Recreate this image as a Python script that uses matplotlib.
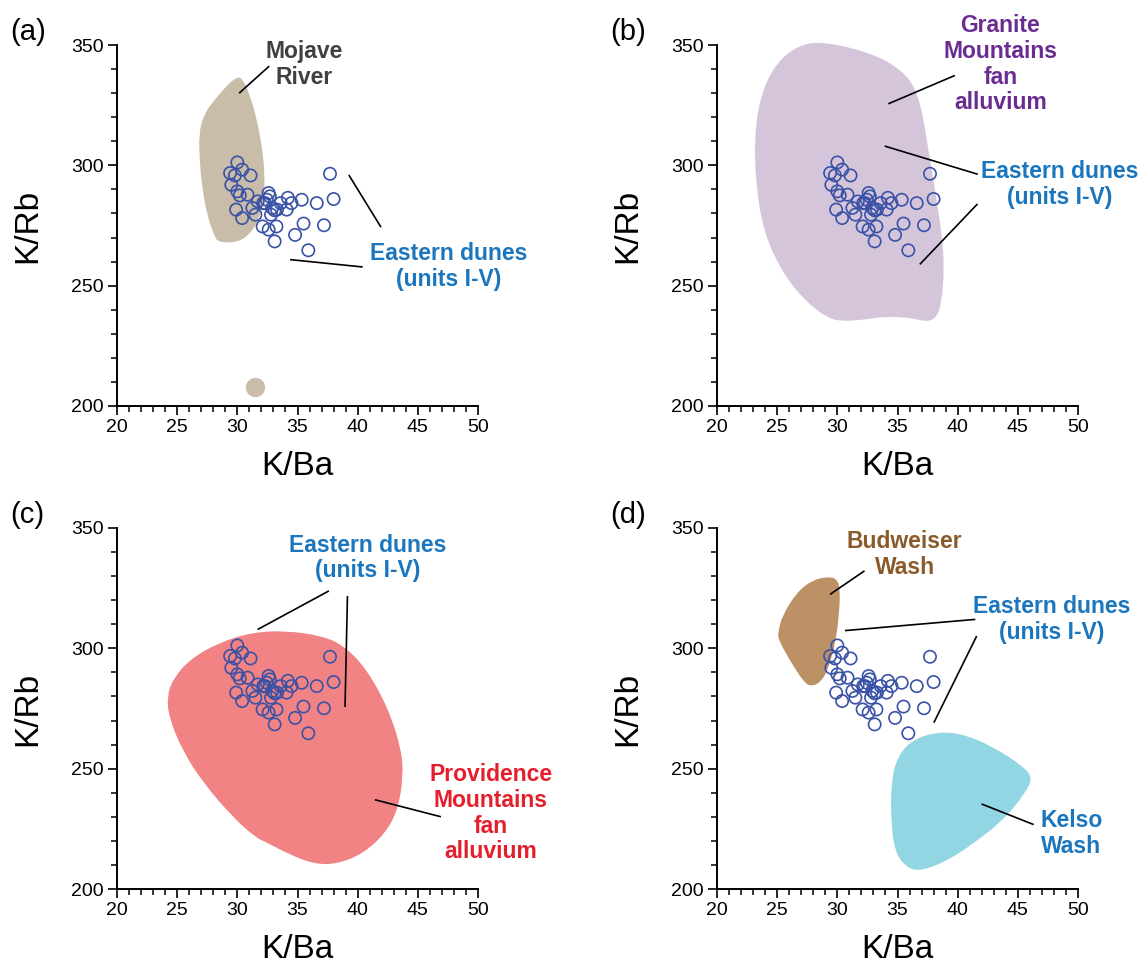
import matplotlib
matplotlib.use("Agg")
import matplotlib.pyplot as plt
from matplotlib.patches import PathPatch
from matplotlib.path import Path
from matplotlib.ticker import MultipleLocator

plt.rcParams['font.family'] = ['Liberation Sans', 'DejaVu Sans']

# Eastern dunes (units I-V) samples, same in every panel
dune_kba = [30.0, 29.4, 29.8, 30.4, 31.1, 29.5, 30.0, 30.2, 30.85, 29.9,
            30.4, 31.25, 31.5, 31.7, 32.15, 32.6, 32.7, 32.45, 32.3, 32.9,
            33.1, 32.8, 33.3, 33.6, 34.2, 34.1, 34.5, 35.35, 36.6, 37.7,
            38.0, 32.1, 32.6, 33.25, 33.1, 34.8, 35.5, 37.2, 35.9]
dune_krb = [301.2, 296.8, 295.8, 298.2, 295.8, 291.9, 289.2, 287.5, 287.8, 281.6,
            278.1, 282.3, 279.5, 285.0, 284.3, 288.5, 287.1, 285.7, 284.3, 282.3,
            281.3, 279.5, 281.6, 284.3, 286.5, 281.6, 284.3, 285.7, 284.3, 296.5,
            286.0, 274.6, 273.3, 274.6, 268.4, 271.1, 275.8, 275.1, 264.7]

# (a) Mojave River field
mojave_kba = [30.3, 30.9, 31.55, 32.0, 32.2, 32.1, 31.7, 30.9, 29.9, 28.5,
              28.2, 27.6, 27.15, 26.95, 26.9, 27.3, 28.2, 29.3, 29.9]
mojave_krb = [336.2, 330.0, 318.9, 306.5, 295.4, 285.7, 277.4, 271.2, 268.4, 268.4,
              270.5, 278.8, 291.2, 302.3, 313.4, 321.0, 327.2, 333.4, 335.8]
mojave_dot = (31.5, 207.9)

# (b) Granite Mountains fan alluvium field
granite_kba = [28.9, 32.9, 35.3, 36.35, 36.95, 37.4, 38.0, 38.6, 38.8, 38.6,
               38.2, 37.4, 36.2, 34.1, 32.25, 30.4, 29.2, 27.4, 25.6, 24.0,
               23.3, 23.2, 23.75, 24.95, 26.8]
granite_krb = [351.0, 346.1, 339.2, 332.3, 322.7, 308.8, 290.9, 271.5, 257.7, 243.9,
               237.0, 235.4, 237.0, 237.7, 236.3, 235.6, 237.0, 243.9, 255.0, 271.5,
               292.3, 313.0, 329.6, 342.0, 349.6]

# (c) Providence Mountains fan alluvium field
prov_kba = [34.0, 37.0, 38.85, 40.7, 42.5, 43.55, 43.7, 43.25, 42.2, 40.35,
            38.25, 36.4, 34.3, 32.45, 31.55, 29.7, 27.3, 25.5, 24.4, 24.25,
            24.7, 26.1, 28.5, 31.25]
prov_krb = [306.9, 304.8, 300.6, 291.0, 274.4, 257.8, 246.7, 232.9, 223.2, 214.9,
            210.8, 210.8, 214.9, 219.8, 221.8, 230.1, 243.9, 257.8, 271.6, 279.9,
            286.8, 295.1, 302.0, 306.2]

# (d) Budweiser Wash and Kelso Wash fields
bud_kba = [29.15, 29.9, 30.15, 30.05, 29.75, 29.15, 28.55, 27.95, 27.35, 26.1,
           25.2, 25.15, 25.5, 26.7, 27.95]
bud_krb = [329.3, 328.6, 324.4, 313.4, 302.3, 291.2, 286.4, 284.7, 285.7, 295.4,
           303.7, 306.4, 313.4, 323.0, 327.9]
kelso_kba = [38.6, 40.7, 43.1, 45.25, 46.15, 45.55, 43.75, 41.3, 39.2, 37.05,
             35.85, 34.9, 34.55, 34.55, 35.1, 36.45]
kelso_krb = [265.0, 263.6, 258.1, 251.1, 246.3, 240.1, 229.0, 219.4, 212.4, 208.0,
             209.0, 215.1, 227.6, 244.2, 255.3, 262.2]

DUNE_BLUE = '#1b76bd'


def setup_axes(ax, letter):
    ax.set_xlim(20, 50)
    ax.set_ylim(200, 350)
    ax.xaxis.set_major_locator(MultipleLocator(5))
    ax.xaxis.set_minor_locator(MultipleLocator(1))
    ax.yaxis.set_major_locator(MultipleLocator(50))
    ax.yaxis.set_minor_locator(MultipleLocator(10))
    ax.spines['top'].set_visible(False)
    ax.spines['right'].set_visible(False)
    ax.spines['left'].set_linewidth(1.4)
    ax.spines['bottom'].set_linewidth(1.4)
    ax.tick_params(which='major', direction='out', length=6.5, width=1.2, labelsize=14, pad=3)
    ax.tick_params(which='minor', direction='out', length=4, width=1.1)
    ax.set_xlabel('K/Ba', fontsize=24)
    ax.set_ylabel('K/Rb', fontsize=24)
    ax.xaxis.set_label_coords(0.5, -0.125)
    ax.yaxis.set_label_coords(-0.205, 0.5)
    ax.text(-0.295, 1.075, letter, transform=ax.transAxes, ha='left', va='top', fontsize=21)


def field(ax, xs, ys, color):
    # smooth closed outline: the read points act as quadratic control points
    pts = list(zip(xs, ys))
    n = len(pts)
    mid = lambda p, q: ((p[0] + q[0]) / 2, (p[1] + q[1]) / 2)
    verts = [mid(pts[-1], pts[0])]
    codes = [Path.MOVETO]
    for i in range(n):
        verts += [pts[i], mid(pts[i], pts[(i + 1) % n])]
        codes += [Path.CURVE3, Path.CURVE3]
    verts.append(verts[0])
    codes.append(Path.CLOSEPOLY)
    ax.add_patch(PathPatch(Path(verts, codes), facecolor=color, edgecolor=color,
                           lw=1.5, zorder=1, clip_on=False))


def dunes(ax):
    ax.scatter(dune_kba, dune_krb, s=78, facecolors='none', edgecolors='#3a52a6',
               linewidths=1.2, zorder=3)


def label(ax, x, y, text, color):
    ax.text(x, y, text, color=color, fontsize=16.5, fontweight='bold', ha='center',
            va='center', linespacing=1.15, clip_on=False)


def leader(ax, x0, y0, x1, y1):
    ax.plot([x0, x1], [y0, y1], color='black', lw=1.2, clip_on=False, zorder=4)


fig = plt.figure(figsize=(11.48, 9.64), dpi=100)
W, H = 1148, 964
axw, axh = 361 / W, 361 / H
ax_a = fig.add_axes([117 / W, 1 - 406 / H, axw, axh])
ax_b = fig.add_axes([717 / W, 1 - 406 / H, axw, axh])
ax_c = fig.add_axes([117 / W, 1 - 889 / H, axw, axh])
ax_d = fig.add_axes([717 / W, 1 - 889 / H, axw, axh])

# (a)
setup_axes(ax_a, '(a)')
field(ax_a, mojave_kba, mojave_krb, '#c9bca8')
ax_a.scatter([mojave_dot[0]], [mojave_dot[1]], s=165, color='#c9bca8', zorder=1)
dunes(ax_a)
label(ax_a, 35.55, 342.0, 'Mojave\nRiver', '#404040')
leader(ax_a, 30.2, 330.2, 32.6, 341.0)
label(ax_a, 47.6, 258.0, 'Eastern dunes\n(units I-V)', DUNE_BLUE)
leader(ax_a, 39.3, 295.7, 41.9, 274.6)
leader(ax_a, 34.45, 260.8, 40.35, 257.8)

# (b)
setup_axes(ax_b, '(b)')
field(ax_b, granite_kba, granite_krb, '#d5c5da')
dunes(ax_b)
label(ax_b, 43.55, 342.0, 'Granite\nMountains\nfan\nalluvium', '#6a2c90')
leader(ax_b, 34.3, 325.7, 39.7, 337.2)
label(ax_b, 48.5, 292.0, 'Eastern dunes\n(units I-V)', DUNE_BLUE)
leader(ax_b, 34.0, 307.9, 41.6, 296.4)
leader(ax_b, 36.9, 259.1, 41.6, 283.7)

# (c)
setup_axes(ax_c, '(c)')
field(ax_c, prov_kba, prov_krb, '#f18384')
dunes(ax_c)
label(ax_c, 40.8, 337.5, 'Eastern dunes\n(units I-V)', DUNE_BLUE)
leader(ax_c, 31.75, 308.0, 37.55, 323.7)
leader(ax_c, 39.15, 321.4, 38.95, 276.0)
label(ax_c, 51.05, 231.5, 'Providence\nMountains\nfan\nalluvium', '#e41f2b')
leader(ax_c, 41.5, 237.0, 46.85, 230.1)

# (d)
setup_axes(ax_d, '(d)')
field(ax_d, bud_kba, bud_krb, '#bc9166')
field(ax_d, kelso_kba, kelso_krb, '#93d6e3')
dunes(ax_d)
label(ax_d, 35.6, 339.0, 'Budweiser\nWash', '#8b5a2b')
leader(ax_d, 29.45, 322.6, 32.2, 332.0)
label(ax_d, 47.85, 312.0, 'Eastern dunes\n(units I-V)', DUNE_BLUE)
leader(ax_d, 30.7, 307.4, 41.4, 312.0)
leader(ax_d, 38.05, 269.4, 41.55, 304.8)
label(ax_d, 49.45, 223.0, 'Kelso\nWash', DUNE_BLUE)
leader(ax_d, 42.05, 235.2, 46.25, 226.9)

fig.savefig('out.png', dpi=100)
